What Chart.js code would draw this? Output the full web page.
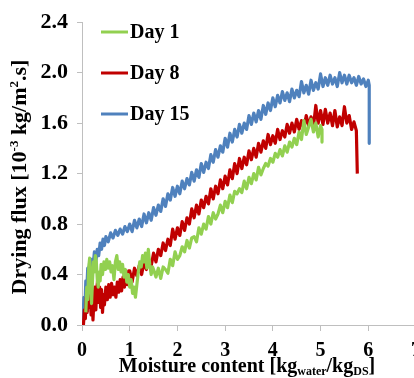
<!DOCTYPE html>
<html>
<head>
<meta charset="utf-8">
<script src="https://cdn.jsdelivr.net/npm/chart.js@4.4.1/dist/chart.umd.min.js"></script>
<style>
  html, body { margin: 0; padding: 0; background: #fff; overflow: hidden; }
</style>
</head>
<body>
<canvas id="grafico" width="430" height="378"></canvas>
<script>
// Moisture content (x) and drying flux (y)
const moistDay1 = [0.08,0.1,0.12,0.14,0.16,0.18,0.2,0.22,0.24,0.26,0.28,0.3,0.32,0.34,0.36,0.38,0.4,0.43,0.46,0.49,0.52,0.55,0.58,0.61,0.64,0.67,0.7,0.73,0.76,0.79,0.82,0.85,0.88,0.91,0.94,0.97,1.0,1.03,1.06,1.09,1.12,1.15,1.18,1.21,1.24,1.27,1.3,1.33,1.36,1.39,1.42,1.45,1.48,
  1.5,1.55,1.6,1.65,1.7,1.75,1.8,1.85,1.9,1.95,2.0,2.05,2.1,2.15,2.2,2.25,2.3,2.35,2.4,2.45,2.5,2.55,2.6,2.65,2.7,2.75,2.8,2.85,2.9,2.95,3.0,3.05,3.1,3.15,3.2,3.25,3.3,3.35,3.4,3.45,3.5,3.55,3.6,3.65,3.7,3.75,3.8,3.85,3.9,3.95,4.0,4.05,4.1,4.15,4.2,4.25,4.3,4.35,4.4,4.45,4.5,4.55,4.6,4.65,4.7,4.75,4.8,4.85,4.9,4.95,5.0,5.03,5.03];
const fluxDay1  = [0.1,0.3,0.2,0.45,0.53,0.35,0.17,0.35,0.5,0.42,0.55,0.5,0.36,0.3,0.42,0.35,0.48,0.4,0.5,0.44,0.52,0.45,0.5,0.42,0.47,0.36,0.5,0.55,0.44,0.5,0.42,0.48,0.38,0.44,0.34,0.4,0.3,0.36,0.25,0.3,0.22,0.32,0.42,0.5,0.46,0.55,0.5,0.57,0.45,0.6,0.48,0.4,0.46,
  0.44,0.38,0.45,0.37,0.46,0.44,0.41,0.52,0.47,0.58,0.52,0.55,0.62,0.58,0.67,0.61,0.69,0.7,0.66,0.77,0.72,0.8,0.76,0.86,0.8,0.89,0.84,0.88,0.95,0.89,0.98,0.93,1.03,0.97,1.06,1.04,1.08,1.05,1.14,1.08,1.17,1.12,1.2,1.15,1.25,1.19,1.24,1.28,1.26,1.32,1.29,1.36,1.33,1.39,1.34,1.42,1.37,1.45,1.41,1.48,1.43,1.53,1.47,1.62,1.51,1.57,1.63,1.53,1.6,1.49,1.58,1.55,1.45];

const moistDay8 = [0.03,0.05,0.07,0.09,0.11,0.13,0.15,0.17,0.19,0.21,0.23,0.25,0.27,0.29,0.31,0.33,0.35,0.37,0.39,0.41,0.43,0.45,0.47,0.5,0.53,0.56,0.59,0.62,0.65,0.68,0.71,0.74,0.77,0.8,0.83,0.86,0.89,0.92,0.95,0.98,
  1.0,1.05,1.1,1.15,1.2,1.25,1.3,1.35,1.4,1.45,1.5,1.55,1.6,1.65,1.7,1.75,1.8,1.85,1.9,1.95,2.0,2.05,2.1,2.15,2.2,2.25,2.3,2.35,2.4,2.45,2.5,2.55,2.6,2.65,2.7,2.75,2.8,2.85,2.9,2.95,3.0,3.05,3.1,3.15,3.2,3.25,3.3,3.35,3.4,3.45,3.5,3.55,3.6,3.65,3.7,3.75,3.8,3.85,3.9,3.95,4.0,4.05,4.1,4.15,4.2,4.25,4.3,4.35,4.4,4.45,4.5,4.55,4.6,4.65,4.7,4.75,4.8,4.85,4.9,4.95,5.0,5.05,5.1,5.15,5.2,5.25,5.3,5.35,5.4,5.45,5.5,5.55,5.6,5.65,5.7,5.75,5.77];
const fluxDay8  = [0.0,0.12,0.05,0.22,0.1,0.3,0.14,0.26,0.08,0.24,0.04,0.2,0.3,0.12,0.28,0.37,0.18,0.3,0.14,0.28,0.1,0.24,0.16,0.3,0.2,0.32,0.22,0.33,0.24,0.3,0.22,0.34,0.26,0.36,0.27,0.38,0.3,0.4,0.32,0.43,
  0.43,0.34,0.45,0.39,0.47,0.4,0.5,0.44,0.52,0.47,0.57,0.5,0.6,0.55,0.65,0.59,0.68,0.63,0.76,0.68,0.77,0.71,0.82,0.75,0.85,0.8,0.92,0.85,0.95,0.88,0.99,0.93,1.02,0.96,1.08,1.0,1.1,1.04,1.15,1.08,1.18,1.11,1.23,1.16,1.28,1.2,1.32,1.24,1.33,1.27,1.38,1.31,1.4,1.33,1.44,1.37,1.46,1.4,1.51,1.43,1.5,1.44,1.55,1.47,1.54,1.49,1.59,1.52,1.6,1.53,1.63,1.55,1.62,1.56,1.66,1.58,1.65,1.57,1.74,1.6,1.7,1.59,1.71,1.6,1.68,1.58,1.7,1.57,1.65,1.58,1.73,1.6,1.66,1.55,1.61,1.54,1.2];

const moistDay15 = [0.02,0.04,0.06,0.08,0.1,0.12,0.14,0.16,0.18,0.2,0.23,0.26,0.29,0.32,0.35,0.38,0.41,0.44,0.47,0.5,0.55,0.6,0.65,0.7,0.75,0.8,0.85,0.9,0.95,
  1.0,1.05,1.1,1.15,1.2,1.25,1.3,1.35,1.4,1.45,1.5,1.55,1.6,1.65,1.7,1.75,1.8,1.85,1.9,1.95,2.0,2.05,2.1,2.15,2.2,2.25,2.3,2.35,2.4,2.45,2.5,2.55,2.6,2.65,2.7,2.75,2.8,2.85,2.9,2.95,3.0,3.05,3.1,3.15,3.2,3.25,3.3,3.35,3.4,3.45,3.5,3.55,3.6,3.65,3.7,3.75,3.8,3.85,3.9,3.95,4.0,4.05,4.1,4.15,4.2,4.25,4.3,4.35,4.4,4.45,4.5,4.55,4.6,4.65,4.7,4.75,4.8,4.85,4.9,4.95,5.0,5.05,5.1,5.15,5.2,5.25,5.3,5.35,5.4,5.45,5.5,5.55,5.6,5.65,5.7,5.75,5.8,5.85,5.9,5.95,6.0,6.02,6.02];
const fluxDay15  = [0.04,0.22,0.12,0.35,0.28,0.45,0.38,0.5,0.42,0.52,0.46,0.58,0.5,0.6,0.55,0.65,0.6,0.68,0.63,0.7,0.66,0.73,0.69,0.75,0.71,0.76,0.72,0.78,0.74,
  0.8,0.74,0.83,0.77,0.84,0.78,0.88,0.81,0.89,0.83,0.93,0.87,0.95,0.9,1.0,0.94,1.04,0.99,1.09,1.02,1.1,1.04,1.14,1.08,1.16,1.11,1.21,1.14,1.23,1.17,1.28,1.21,1.29,1.24,1.35,1.29,1.39,1.33,1.42,1.37,1.48,1.41,1.52,1.45,1.55,1.49,1.59,1.52,1.6,1.55,1.66,1.59,1.68,1.61,1.7,1.63,1.74,1.67,1.76,1.7,1.8,1.73,1.82,1.76,1.85,1.78,1.84,1.77,1.87,1.8,1.86,1.81,1.93,1.84,1.9,1.83,1.94,1.86,1.92,1.87,1.99,1.89,1.96,1.9,1.98,1.91,1.96,1.89,2.0,1.92,1.98,1.91,1.98,1.92,1.96,1.9,1.97,1.91,1.95,1.89,1.94,1.9,1.44];

const seriesNames = ["Day 1", "Day 8", "Day 15"];
const seriesColors = ["#92D050", "#C00000", "#4F81BD"];

const fonte = "'Liberation Serif', 'Times New Roman', serif";

function pontos(xs, ys) {
  return xs.map((x, i) => ({ x: x, y: ys[i] }));
}

// texto com subscritos / sobrescritos, centrado em x
function textoRico(ctx, partes, x, y) {
  let total = 0;
  partes.forEach(p => {
    ctx.font = "bold " + p[1] + "px " + fonte;
    total += ctx.measureText(p[0]).width;
  });
  let cx = x - total / 2;
  partes.forEach(p => {
    ctx.font = "bold " + p[1] + "px " + fonte;
    ctx.fillText(p[0], cx, y + p[2]);
    cx += ctx.measureText(p[0]).width;
  });
}

const extras = {
  id: "extras",
  afterDraw(chart) {
    const ctx = chart.ctx;
    ctx.save();
    ctx.fillStyle = "#000";
    ctx.textAlign = "left";

    // legenda
    const legY = [32, 73, 114];
    chart.data.datasets.forEach((ds, i) => {
      ctx.strokeStyle = ds.borderColor;
      ctx.lineWidth = 3;
      ctx.beginPath();
      ctx.moveTo(101, legY[i]);
      ctx.lineTo(128, legY[i]);
      ctx.stroke();
      ctx.font = "bold 20px " + fonte;
      ctx.textBaseline = "middle";
      ctx.fillText(ds.label, 130, legY[i] + 1);
    });

    // titulo eixo x
    ctx.textBaseline = "alphabetic";
    textoRico(ctx, [
      ["Moisture content [kg", 20, 0],
      ["water", 12, 3],
      ["/kg", 20, 0],
      ["DS", 12, 3],
      ["]", 20, 0]
    ], 247, 372);

    // titulo eixo y
    ctx.translate(26, 177);
    ctx.rotate(-Math.PI / 2);
    textoRico(ctx, [
      ["Drying flux [10", 22, 0],
      ["-3", 13, -8],
      [" kg/m", 22, 0],
      ["2", 13, -8],
      [".s]", 22, 0]
    ], 0, 0);
    ctx.restore();
  }
};

const ctx = document.getElementById("grafico").getContext("2d");
new Chart(ctx, {
  type: "scatter",
  data: {
    datasets: [
      { label: seriesNames[0], data: pontos(moistDay1, fluxDay1), borderColor: seriesColors[0] },
      { label: seriesNames[1], data: pontos(moistDay8, fluxDay8), borderColor: seriesColors[1] },
      { label: seriesNames[2], data: pontos(moistDay15, fluxDay15), borderColor: seriesColors[2] }
    ].map(d => Object.assign(d, { showLine: true, pointRadius: 0, borderWidth: 3.2, borderJoinStyle: "round", tension: 0 }))
  },
  options: {
    responsive: false,
    animation: false,
    layout: { padding: { top: 17, right: 14, left: 0, bottom: 0 } },
    plugins: { legend: { display: false }, tooltip: { enabled: false } },
    scales: {
      x: {
        type: "linear",
        min: 0, max: 7,
        afterFit: s => { s.height = 53; },
        ticks: { stepSize: 1, color: "#000", padding: 8, maxRotation: 0, font: { family: fonte, size: 20, weight: "bold" } },
        grid: { drawOnChartArea: false, drawTicks: true, tickLength: 6, color: "#bfbfbf" },
        border: { color: "#bfbfbf" }
      },
      y: {
        min: 0, max: 2.4,
        afterFit: s => { s.width = 82; },
        ticks: { stepSize: 0.4, color: "#000", padding: 9, callback: v => v.toFixed(1), font: { family: fonte, size: 22, weight: "bold" } },
        grid: { drawOnChartArea: false, drawTicks: true, tickLength: 5, color: "#bfbfbf" },
        border: { color: "#bfbfbf" }
      }
    }
  },
  plugins: [extras]
});
</script>
</body>
</html>
